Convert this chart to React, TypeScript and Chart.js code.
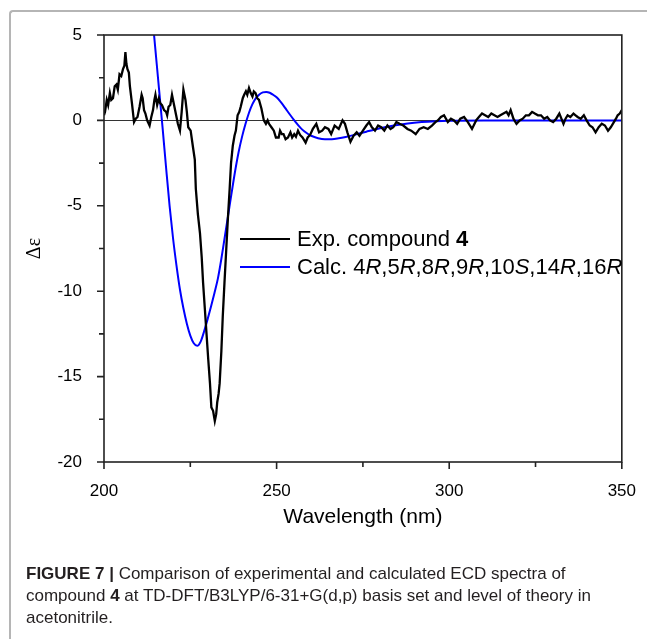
import React, { useEffect, useRef } from "react";
import { Chart, registerables } from "chart.js";
Chart.register(...registerables);

// ---------- data ----------
const expWavelength = [
  200.0, 200.3, 200.8, 201.2, 201.7, 202.1, 202.6, 203.1, 203.6, 204.0, 204.5, 205.0, 205.5, 205.9, 206.2, 206.5, 206.8, 207.2, 207.5, 208.1,
  208.7, 209.2, 209.7, 210.3, 210.9, 211.2, 211.6, 212.0, 212.5, 213.2, 213.7, 214.2, 214.6, 214.9, 215.4, 215.9, 216.3, 216.8, 217.4, 218.0,
  218.3, 218.7, 219.2, 219.7, 220.0, 220.4, 220.9, 221.4, 222.0, 222.5, 223.0, 223.3, 223.6, 224.0, 224.4, 225.1, 225.8, 226.3, 226.6, 227.2,
  227.8, 228.3, 228.7, 229.2, 229.7, 230.2, 230.7, 231.1, 231.6, 232.1, 232.5, 232.8, 233.2, 233.5, 234.0, 234.4, 234.9, 235.4, 235.9, 236.4,
  236.8, 237.3, 237.8, 238.2, 238.7, 239.2, 239.6, 240.2, 240.6, 241.1, 241.5, 242.0, 242.5, 243.0, 243.4, 243.9, 244.4, 244.9, 245.6, 246.3,
  246.9, 247.4, 247.8, 248.5, 249.2, 249.8, 250.6, 251.0, 251.5, 252.0, 252.6, 253.3, 254.0, 254.5, 255.1, 255.6, 256.2, 256.8, 257.5, 258.4,
  259.0, 259.7, 260.5, 261.5, 262.3, 263.2, 264.0, 265.0, 265.8, 266.8, 268.0, 269.1, 269.8, 270.5, 271.4, 272.3, 273.2, 274.0, 275.0, 276.0,
  276.8, 277.6, 278.5, 279.4, 280.3, 281.2, 282.1, 283.0, 283.8, 284.7, 285.6, 286.7, 287.9, 289.0, 290.3, 291.4, 292.6, 293.8, 295.0, 296.0,
  296.7, 297.6, 298.5, 299.6, 300.5, 301.4, 302.3, 303.2, 304.3, 305.4, 306.6, 307.8, 308.6, 309.5, 310.4, 311.3, 312.2, 313.1, 314.0, 314.8,
  315.7, 316.6, 317.2, 317.8, 318.6, 319.5, 320.4, 321.3, 322.2, 323.1, 324.0, 324.8, 325.7, 326.6, 327.5, 328.4, 329.2, 330.1, 331.0, 331.9,
  332.5, 333.1, 333.7, 334.3, 335.1, 336.0, 336.6, 337.2, 338.1, 339.0, 339.8, 340.7, 341.5, 342.4, 343.3, 344.2, 345.1, 346.0, 346.8, 347.7,
  348.3, 348.8, 349.4, 350.0,
];
const expDelta = [
  0.3, 0.5, 1.2, 0.9, 1.6, 1.2, 1.3, 2.0, 2.1, 1.8, 2.7, 2.6, 3.0, 3.2, 4.0, 3.3, 3.0, 2.8, 2.0, 1.0,
  -0.1, 0.1, 0.2, 0.8, 1.5, 1.3, 0.6, 0.4, 0.0, -0.3, 0.2, 0.6, 1.2, 1.5, 0.9, 1.3, 1.0, 0.9, 0.6, 0.5,
  0.3, 0.8, 0.9, 1.5, 1.2, 0.8, 0.3, -0.2, -0.6, 0.5, 1.8, 1.5, 1.2, 0.5, -0.4, -0.6, -1.6, -2.3, -4.0, -5.5,
  -6.6, -8.0, -9.5, -11.0, -12.5, -14.0, -15.4, -16.8, -17.0, -17.6, -17.2, -16.5, -16.0, -15.4, -13.5, -11.5, -9.5, -7.6, -5.7, -4.0,
  -2.5, -1.5, -0.9, -0.6, 0.3, 0.5, 0.8, 1.3, 1.5, 1.7, 1.5, 1.9, 1.6, 1.4, 1.7, 1.6, 1.3, 1.2, 0.7, 0.0,
  -0.2, 0.0, -0.2, -0.4, -0.6, -1.0, -1.0, -0.6, -0.8, -0.8, -1.1, -1.0, -0.7, -1.0, -0.8, -0.95, -0.6, -0.85, -1.0, -1.3,
  -1.0, -0.85, -0.5, -0.2, -0.7, -0.6, -0.4, -0.5, -0.8, -0.3, -0.5, 0.0, -0.2, -0.7, -1.25, -0.9, -0.7, -0.9, -0.6, -0.3,
  -0.1, -0.4, -0.6, -0.3, -0.4, -0.6, -0.3, -0.5, -0.4, -0.1, -0.2, -0.3, -0.5, -0.6, -0.8, -0.5, -0.4, -0.5, -0.3, -0.1,
  0.0, 0.2, 0.3, -0.1, 0.1, 0.0, -0.2, 0.1, 0.2, -0.1, -0.5, 0.0, 0.2, 0.4, 0.3, 0.2, 0.4, 0.3, 0.2, 0.3,
  0.4, 0.5, 0.3, 0.6, 0.1, -0.2, 0.0, 0.1, 0.3, 0.3, 0.5, 0.4, 0.3, 0.3, 0.1, 0.2, 0.0, -0.1, 0.1, 0.4,
  0.1, -0.2, 0.1, 0.3, 0.2, 0.4, 0.3, 0.2, 0.1, 0.3, 0.0, -0.3, -0.4, -0.7, -0.4, -0.2, -0.3, -0.6, -0.4, -0.1,
  0.1, 0.3, 0.4, 0.6,
];
const calcWavelength = [
  212, 213, 214, 215, 216, 217, 218, 219, 220, 221, 222, 223, 224, 225, 226, 227, 228, 229, 230, 231,
  232, 233, 234, 235, 236, 237, 238, 239, 240, 241, 242, 243, 244, 245, 246, 247, 248, 249, 250, 251,
  252, 253, 254, 255, 256, 257, 258, 259, 260, 262, 264, 266, 268, 270, 273, 276, 280, 284, 288, 292,
  296, 300, 310, 320, 330, 340, 350,
];
const calcDelta = [
  10.5, 8.3, 6.1, 3.9, 1.7, -0.5, -2.8, -5.0, -6.9, -8.5, -9.9, -11.0, -11.9, -12.6, -13.05, -13.2, -12.95, -12.35, -11.65, -10.9,
  -10.1, -9.25, -8.1, -6.8, -5.5, -4.2, -2.95, -1.85, -0.95, -0.2, 0.45, 0.95, 1.3, 1.52, 1.64, 1.67, 1.62, 1.5, 1.35, 1.13,
  0.87, 0.58, 0.3, 0.03, -0.22, -0.45, -0.63, -0.78, -0.9, -1.04, -1.1, -1.1, -1.05, -0.97, -0.82, -0.66, -0.46, -0.3, -0.18, -0.1,
  -0.05, -0.02, 0, 0, 0, 0, 0,
];
const xMajorTicks = [200, 250, 300, 350];
const xMinorTicks = [225, 275, 325];
const yMajorTicks = [5, 0, -5, -10, -15, -20];
const yMinorTicks = [2.5, -2.5, -7.5, -12.5, -17.5];

const xTitle = "Wavelength (nm)";
const yTitle = "\u0394\u03b5";
const legendExp: [string, string][] = [["Exp. compound ", "normal"], ["4", "bold"]];
const legendCalc: [string, string][] = [
  ["Calc. 4", "normal"], ["R", "italic"], [",5", "normal"], ["R", "italic"], [",8", "normal"], ["R", "italic"],
  [",9", "normal"], ["R", "italic"], [",10", "normal"], ["S", "italic"], [",14", "normal"], ["R", "italic"],
  [",16", "normal"], ["R", "italic"],
];

const SANS = '"Liberation Sans", Arial, Helvetica, sans-serif';

const framePlugin = {
  id: "frame",
  beforeDatasetsDraw(chart: any) {
    const { ctx, chartArea: a, scales } = chart;
    const y0 = scales.y.getPixelForValue(0);
    ctx.save();
    ctx.strokeStyle = "#333";
    ctx.lineWidth = 1;
    ctx.beginPath();
    ctx.moveTo(a.left, Math.round(y0) + 0.5);
    ctx.lineTo(a.right, Math.round(y0) + 0.5);
    ctx.stroke();
    ctx.restore();
  },
  afterDatasetsDraw(chart: any) {
    const { ctx, chartArea: a, scales } = chart;
    ctx.save();
    ctx.strokeStyle = "#222";
    ctx.lineWidth = 1.6;
    ctx.strokeRect(a.left, a.top, a.right - a.left, a.bottom - a.top);
    ctx.beginPath();
    for (const v of xMajorTicks) {
      const px = scales.x.getPixelForValue(v);
      ctx.moveTo(px, a.bottom);
      ctx.lineTo(px, a.bottom + 7);
    }
    for (const v of xMinorTicks) {
      const px = scales.x.getPixelForValue(v);
      ctx.moveTo(px, a.bottom);
      ctx.lineTo(px, a.bottom + 5);
    }
    for (const v of yMajorTicks) {
      const py = scales.y.getPixelForValue(v);
      ctx.moveTo(a.left, py);
      ctx.lineTo(a.left - 7, py);
    }
    for (const v of yMinorTicks) {
      const py = scales.y.getPixelForValue(v);
      ctx.moveTo(a.left, py);
      ctx.lineTo(a.left - 5, py);
    }
    ctx.stroke();

    // legend
    const drawRich = (parts: [string, string][], x: number, y: number) => {
      let cx = x;
      for (const [t, s] of parts) {
        ctx.font = `${s === "italic" ? "italic " : ""}${s === "bold" ? "bold " : ""}22px ${SANS}`;
        ctx.fillText(t, cx, y);
        cx += ctx.measureText(t).width;
      }
    };
    ctx.textBaseline = "middle";
    ctx.textAlign = "left";
    ctx.fillStyle = "#000";
    const lx = a.left + 136;
    const ly1 = a.top + 204;
    const ly2 = a.top + 232;
    ctx.lineWidth = 2;
    ctx.strokeStyle = "#000";
    ctx.beginPath();
    ctx.moveTo(lx, ly1);
    ctx.lineTo(lx + 50, ly1);
    ctx.stroke();
    ctx.strokeStyle = "#0000ff";
    ctx.beginPath();
    ctx.moveTo(lx, ly2);
    ctx.lineTo(lx + 50, ly2);
    ctx.stroke();
    drawRich(legendExp, lx + 57, ly1 + 1);
    drawRich(legendCalc, lx + 57, ly2 + 1);
    ctx.restore();
  },
};

export default function App() {
  const ref = useRef<HTMLCanvasElement | null>(null);
  useEffect(() => {
    if (!ref.current) return;
    const chart = new Chart(ref.current, {
      type: "line",
      data: {
        datasets: [
          {
            label: "Exp. compound 4",
            data: expWavelength.map((x, i) => ({ x, y: expDelta[i] })),
            borderColor: "#000000",
            borderWidth: 2.3,
            pointRadius: 0,
            tension: 0,
            clip: 0,
          },
          {
            label: "Calc.",
            data: calcWavelength.map((x, i) => ({ x, y: calcDelta[i] })),
            borderColor: "#0000ff",
            borderWidth: 2,
            pointRadius: 0,
            cubicInterpolationMode: "monotone",
            clip: 0,
          },
        ],
      },
      options: {
        animation: false,
        responsive: false,
        devicePixelRatio: 1,
        layout: { padding: { left: 0, top: 35, right: 16, bottom: 107 } },
        plugins: { legend: { display: false }, tooltip: { enabled: false } },
        scales: {
          x: {
            type: "linear",
            min: 200,
            max: 350,
            grid: { display: false },
            border: { display: false },
            ticks: {
              stepSize: 50,
              padding: 11,
              color: "#000",
              font: { family: SANS, size: 17 },
              maxRotation: 0,
            },
            title: {
              display: true,
              text: xTitle,
              color: "#000",
              font: { family: SANS, size: 21 },
              padding: { top: 0, bottom: 2 },
            },
            afterFit: (s: any) => {
              s.height = 70;
            },
          },
          y: {
            type: "linear",
            min: -20,
            max: 5,
            grid: { display: false },
            border: { display: false },
            ticks: {
              stepSize: 5,
              padding: 14,
              color: "#000",
              font: { family: SANS, size: 17 },
            },
            title: {
              display: true,
              text: yTitle,
              color: "#000",
              font: { family: '"Liberation Serif", "Times New Roman", serif', size: 20 },
              padding: { top: 23, bottom: 0 },
            },
            afterFit: (s: any) => {
              s.width = 104;
            },
          },
        },
      },
      plugins: [framePlugin],
    } as any);
    return () => chart.destroy();
  }, []);

  return (
    <div style={{ position: "fixed", left: 0, top: 0, width: 647, height: 639, background: "#fff", overflow: "hidden" }}>
      <div
        style={{
          position: "absolute",
          left: 9,
          top: 10,
          width: 700,
          height: 700,
          borderTop: "2px solid #b5b5b5",
          borderLeft: "2px solid #b5b5b5",
          borderTopLeftRadius: 4,
        }}
      />
      <canvas ref={ref} width={647} height={639} style={{ position: "absolute", left: 0, top: 0, width: 647, height: 639 }} />
      <div
        style={{
          position: "absolute",
          left: 26,
          top: 563,
          font: `17px ${SANS}`,
          lineHeight: "22px",
          color: "#231f20",
          whiteSpace: "nowrap",
        }}
      >
        <b>FIGURE 7</b> <b>|</b> Comparison of experimental and calculated ECD spectra of
        <br />
        compound <b>4</b> at TD-DFT/B3LYP/6-31+G(d,p) basis set and level of theory in
        <br />
        acetonitrile.
      </div>
    </div>
  );
}
